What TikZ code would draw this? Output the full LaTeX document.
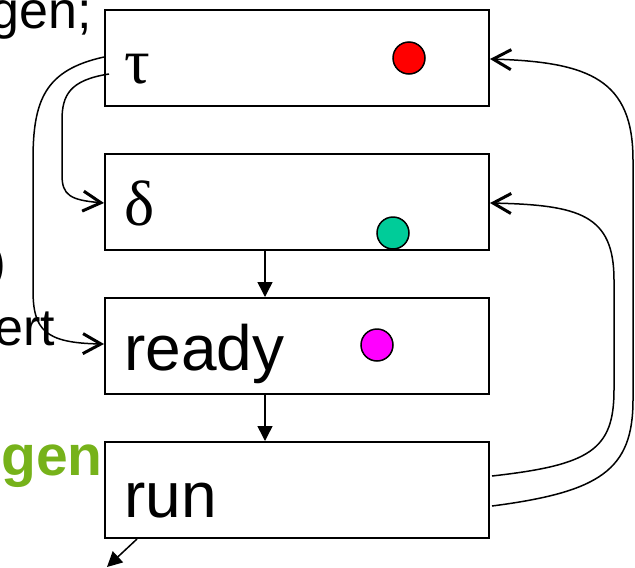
\documentclass[tikz,border=0pt]{standalone}
\usepackage{fontspec}
\setmainfont{Liberation Sans}
\newfontfamily\greekfont{Liberation Serif}
\usepackage{xcolor}
\usepackage{tikz}
\usetikzlibrary{arrows.meta,positioning,calc}
\definecolor{gengreen}{RGB}{118,178,26}
\definecolor{dotteal}{RGB}{0,204,153}
\definecolor{dotmagenta}{RGB}{255,0,255}

\begin{document}
\begin{tikzpicture}[
            x=1pt, y=-1pt,
            node distance=46pt,
            box/.style={draw, rectangle, line width=2pt, minimum width=384pt, minimum height=96pt, inner sep=0pt},
            lbl/.style={anchor=base west, inner sep=0pt, font=\fontsize{64}{70}\selectfont},
            dot/.style={draw, circle, line width=1.5pt, minimum size=32pt, inner sep=0pt},
            side/.style={anchor=base east, inner sep=0pt, font=\fontsize{52}{56}\selectfont},
            loop/.style={line width=1.5pt, -{Straight Barb[length=18pt, width=20pt, line width=3pt]}},
            down/.style={line width=1.5pt, -{Triangle[length=15pt, width=15pt]}}
        ]
            \useasboundingbox (0,0) rectangle (635,568);

            % the four queues
            \node[box] (tau) at (297,58) {};
            \node[box, below=of tau] (delta) {};
            \node[box, below=of delta] (ready) {};
            \node[box, below=of ready] (run) {};

            \node[lbl] (taulbl) at ($(tau.west)+(20,25)$) {\greekfont τ};
            \node[lbl] (deltalbl) at ($(delta.west)+(20,23)$) {\greekfont δ};
            \node[lbl] (readylbl) at ($(ready.west)+(20,24)$) {ready};
            \node[lbl] (runlbl) at ($(run.west)+(20,27)$) {run};

            \node[dot, fill=red] (reddot) at (409,58) {};
            \node[dot, fill=dotteal] (tealdot) at (393,233) {};
            \node[dot, fill=dotmagenta] (magdot) at (377,345) {};

            % cut-off text on the left
            \node[side] (gentext) at (92,28) {gen;};
            \node[side, font=\fontsize{50}{54}\selectfont] (paren) at (6,279) {)};
            \node[side] (erttext) at (55,345) {ert};
            \node[side, font=\bfseries\fontsize{57}{60}\selectfont, text=gengreen] (gentag) at (103,475) {gen};

            % connectors
            \draw[down] ($(delta.south)+(-32,0)$) -- ($(ready.north)+(-32,0)$);
            \draw[down] ($(ready.south)+(-32,0)$) -- ($(run.north)+(-32,0)$);
            \coordinate (exit) at (107,567);
            \draw[down] ($(run.south)+(-160,0)$) -- (exit);

            \draw[loop] ($(tau.west)+(0,-1)$) .. controls (45,70) and (33,100) .. (33,160)
                -- (33,290) .. controls (33,330) and (45,343) .. ($(ready.west)+(0,-2)$);
            \draw[loop] ($(tau.west)+(5,16)$) .. controls (70,80) and (62,95) .. (62,120)
                -- (62,175) .. controls (62,195) and (70,200) .. ($(delta.west)+(0,1)$);
            \draw[loop] ($(run.east)+(2,-14)$) .. controls (590,465) and (614,450) .. (614,390)
                -- (614,280) .. controls (614,215) and (580,205) .. ($(delta.east)+(0,1)$);
            \draw[loop] ($(run.east)+(2,16)$) .. controls (600,492) and (633,470) .. (633,400)
                -- (633,160) .. controls (633,80) and (590,62) .. ($(tau.east)+(0,1)$);
        \end{tikzpicture}
\end{document}
